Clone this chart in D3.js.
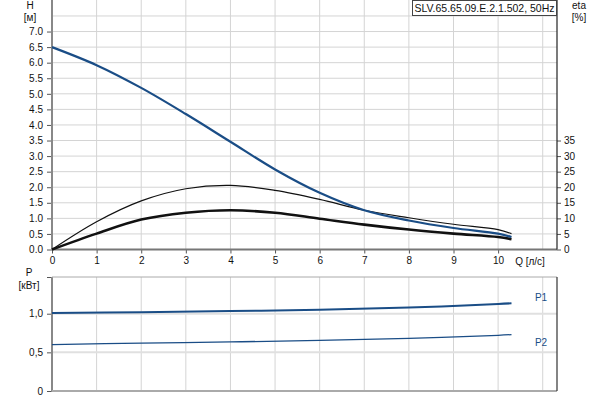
<!DOCTYPE html>
<html>
<head>
<meta charset="utf-8">
<script src="https://cdn.jsdelivr.net/npm/d3@7"></script>
<style>
  body { margin: 0; background: #fff; }
  svg { font-family: "Liberation Sans", Arial, sans-serif; font-size: 10px; }
  .grid line { stroke: #d4d4d4; stroke-width: 1; }
  .axis path { display: none; }
  .axis line { stroke: #555; }
  .axis text { fill: #111; font-size: 10px; }
</style>
</head>
<body>
<svg id="chart" width="600" height="400"></svg>
<script>
// flow points, l/s
const q = [0, 1, 2, 3, 4, 5, 6, 7, 8, 9, 10, 10.3];
// head, m
const head = [6.5, 5.92, 5.19, 4.35, 3.46, 2.57, 1.82, 1.26, 0.93, 0.69, 0.51, 0.4];
// efficiency, %
const etaHydr = [0, 8.9, 15.6, 19.5, 20.6, 19.0, 16.1, 12.6, 10.2, 8.1, 6.4, 5.1];
const etaTotal = [0, 5.1, 9.6, 11.8, 12.6, 11.8, 9.9, 8.0, 6.4, 5.1, 4.0, 3.3];
// power, kW
const qP = [0, 2, 4, 6, 8, 10, 10.3];
const p1 = [1.01, 1.02, 1.035, 1.05, 1.08, 1.125, 1.135];
const p2 = [0.60, 0.62, 0.635, 0.655, 0.68, 0.72, 0.73];

const qTicks = [0, 1, 2, 3, 4, 5, 6, 7, 8, 9, 10];
const hTicks = [0, 0.5, 1, 1.5, 2, 2.5, 3, 3.5, 4, 4.5, 5, 5.5, 6, 6.5, 7];
const etaTicks = [0, 5, 10, 15, 20, 25, 30, 35];
const pTicks = [0, 0.5, 1.0];
const title = "SLV.65.65.09.E.2.1.502, 50Hz";

const BLUE = "#1a4d86";
const svg = d3.select("#chart");

const L = 52, R = 557;
const x = d3.scaleLinear().domain([0, 11.32]).range([L, R]);
const yH = d3.scaleLinear().domain([0, 8]).range([249.5, 0.4]);
const yEta = d3.scaleLinear().domain([0, 80]).range([249.5, 0.4]);
const yP = d3.scaleLinear().domain([0, 1.475]).range([391, 277]);

// grids
const gridUp = svg.append("g").attr("class", "grid");
gridUp.selectAll(".v").data(d3.range(1, 12)).enter().append("line")
  .attr("x1", d => x(d)).attr("x2", d => x(d)).attr("y1", 0).attr("y2", yH(0));
gridUp.selectAll(".h").data(d3.range(0.5, 8, 0.5)).enter().append("line")
  .attr("x1", L).attr("x2", R).attr("y1", d => yH(d)).attr("y2", d => yH(d));

const gridLo = svg.append("g").attr("class", "grid");
gridLo.selectAll(".v").data(d3.range(1, 12)).enter().append("line")
  .attr("x1", d => x(d)).attr("x2", d => x(d)).attr("y1", yP(1.475)).attr("y2", yP(0));
gridLo.selectAll(".h").data([0.5, 1.0]).enter().append("line")
  .attr("x1", L).attr("x2", R).attr("y1", d => yP(d)).attr("y2", d => yP(d))
  .style("stroke", "#e0e0e0").style("stroke-width", 2);

// axes
svg.append("g").attr("class", "axis")
  .attr("transform", `translate(${L},0)`)
  .call(d3.axisLeft(yH).tickValues(hTicks).tickFormat(d3.format(".1f")).tickSize(5).tickSizeOuter(0))
  .selectAll("text").attr("x", -9);

svg.append("g").attr("class", "axis")
  .attr("transform", `translate(${R},0)`)
  .call(d3.axisRight(yEta).tickValues(etaTicks).tickSize(4).tickSizeOuter(0))
  .selectAll("text").attr("x", 7);

svg.append("g").attr("class", "axis")
  .attr("transform", `translate(0,${yH(0)})`)
  .call(d3.axisBottom(x).tickValues(qTicks).tickSize(4).tickSizeOuter(0))
  .selectAll("text").attr("y", 7);

svg.append("g").attr("class", "axis")
  .attr("transform", `translate(${L},0)`)
  .call(d3.axisLeft(yP).tickValues([0, 0.5, 1.0, 1.475]).tickSize(5).tickSizeOuter(0)
    .tickFormat(d => d === 1.475 ? "" : d === 0 ? "0" : d3.format(".1f")(d).replace(".", ",")))
  .selectAll("text").attr("x", -9);

// frame lines
const frame = svg.append("g");
frame.append("line").attr("x1", L).attr("x2", L).attr("y1", 0).attr("y2", yH(0))
  .attr("stroke", "#888").attr("stroke-width", 2);
frame.append("line").attr("x1", L).attr("x2", R).attr("y1", yH(0)).attr("y2", yH(0))
  .attr("stroke", "#777").attr("stroke-width", 2);
frame.append("line").attr("x1", R).attr("x2", R).attr("y1", 0).attr("y2", yH(0))
  .attr("stroke", "#222").attr("stroke-width", 1.2);
frame.append("line").attr("x1", L).attr("x2", L).attr("y1", yP(1.475)).attr("y2", yP(0) + 1)
  .attr("stroke", "#888").attr("stroke-width", 2);
frame.append("line").attr("x1", L).attr("x2", R).attr("y1", yP(1.475)).attr("y2", yP(1.475))
  .attr("stroke", "#aaa").attr("stroke-width", 1);
frame.append("line").attr("x1", L).attr("x2", R).attr("y1", yP(0)).attr("y2", yP(0))
  .attr("stroke", "#aaa").attr("stroke-width", 2);
frame.append("line").attr("x1", R).attr("x2", R).attr("y1", yP(1.475)).attr("y2", yP(0))
  .attr("stroke", "#333").attr("stroke-width", 1.2);

// curves
const curve = d3.curveCatmullRom;
const lineOf = (xs, ys, sy) => d3.line().curve(curve)
  .x((d, i) => x(xs[i])).y(d => sy(d))(ys);

svg.append("path").attr("d", lineOf(q, etaHydr, yEta))
  .attr("fill", "none").attr("stroke", "#111").attr("stroke-width", 1.2);
svg.append("path").attr("d", lineOf(q, etaTotal, yEta))
  .attr("fill", "none").attr("stroke", "#111").attr("stroke-width", 2.6);
svg.append("path").attr("d", lineOf(q, head, yH))
  .attr("fill", "none").attr("stroke", BLUE).attr("stroke-width", 2.2);
svg.append("path").attr("d", lineOf(qP, p1, yP))
  .attr("fill", "none").attr("stroke", BLUE).attr("stroke-width", 2);
svg.append("path").attr("d", lineOf(qP, p2, yP))
  .attr("fill", "none").attr("stroke", BLUE).attr("stroke-width", 1.3);

// labels
const txt = (tx, ty, s, anchor, fill) => svg.append("text")
  .attr("x", tx).attr("y", ty).attr("text-anchor", anchor || "middle")
  .attr("fill", fill || "#111").style("font-size", "10px").text(s);

txt(30, 9, "H");
txt(30, 21, "[м]");
txt(579, 9, "eta");
txt(579, 21, "[%]");
txt(29, 276, "P");
txt(29, 289, "[кВт]");
txt(530, 265, "Q [л/с]");
txt(541, 301, "P1", "middle", BLUE);
txt(541, 346, "P2", "middle", BLUE);

svg.append("rect").attr("x", 412.5).attr("y", 0.5).attr("width", 144).attr("height", 15)
  .attr("fill", "#fff").attr("stroke", "#444");
svg.append("text").attr("x", 484.5).attr("y", 12).attr("text-anchor", "middle")
  .style("font-size", "10.5px").attr("fill", "#111").text(title);
</script>
</body>
</html>
